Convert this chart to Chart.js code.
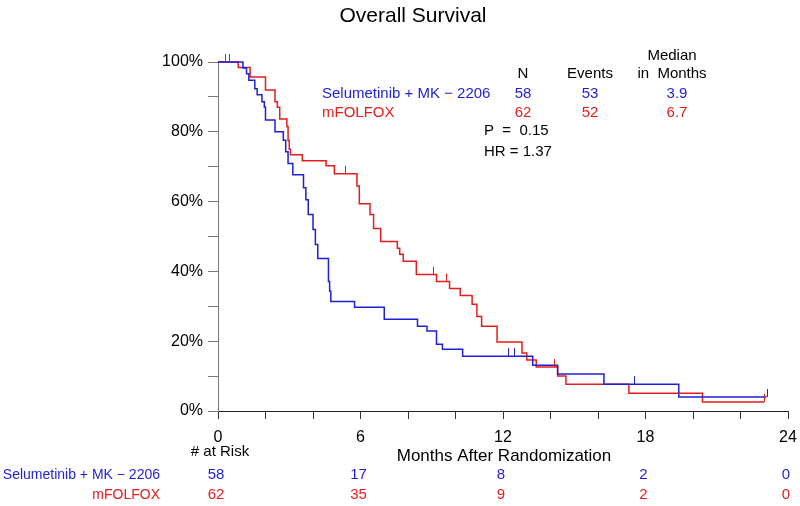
<!DOCTYPE html>
<html>
<head>
<meta charset="utf-8">
<script src="https://cdn.jsdelivr.net/npm/chart.js@4.4.1/dist/chart.umd.min.js"></script>
<style>
  html, body { margin: 0; padding: 0; background: #fff; }
</style>
</head>
<body>
<canvas id="km" width="800" height="506"></canvas>
<script>
// groups
const groupNames = ['Selumetinib + MK \u2212 2206', 'mFOLFOX'];
const groupColors = ['#1f1fd8', '#e61c1c'];

// Kaplan-Meier steps (months, % surviving)
const comboMonths = [0, 1.05, 1.2, 1.3, 1.55, 1.65, 1.85, 1.95, 2.0, 2.4, 2.75, 2.85, 2.95, 3.15, 3.6, 3.7, 3.8, 4.0, 4.1, 4.2, 4.65, 4.7, 4.75, 5.75, 7.0, 8.4, 8.8, 9.2, 9.45, 10.3, 13.25, 14.3, 16.25, 19.4, 23.1];
const comboSurv   = [100, 98.3, 96.6, 94.8, 92.3, 90.6, 88.6, 87.1, 83.4, 80, 77.6, 74.3, 70.9, 67.7, 64, 60.5, 56.3, 52, 47.7, 43.7, 37.1, 34.3, 31.4, 29.7, 26.3, 24.3, 22.9, 19.1, 17.7, 15.7, 13.1, 10.6, 7.7, 4.0, 4.0];
const comboCensor = [12.2, 12.45, 17.5, 23.1];

const folfoxMonths = [0, 0.85, 1.35, 2.0, 2.4, 2.5, 2.6, 2.9, 2.95, 3.0, 3.05, 3.55, 4.55, 4.9, 5.85, 5.95, 6.4, 6.55, 6.85, 7.55, 7.65, 7.8, 8.35, 9.2, 9.75, 10.2, 10.7, 10.9, 11.1, 11.75, 12.8, 13.0, 13.4, 14.3, 14.65, 17.3, 20.4, 23.0];
const folfoxSurv   = [100, 98.4, 95.7, 92, 88.6, 87, 83.7, 81.5, 77.5, 75, 73.4, 71.7, 70.3, 68, 64.5, 59.4, 56.3, 52.3, 48.6, 46.6, 44.9, 42.9, 39.1, 37.1, 35.1, 33.1, 30.6, 27.1, 24.3, 19.8, 16.6, 14.6, 12.6, 10.0, 7.7, 5.1, 2.6, 2.6];
const folfoxCensor = [0.3, 0.45, 5.35, 9.05, 9.6, 14.15, 23.0];

// number at risk
const riskMonths = [0, 6, 12, 18, 24];
const riskCombo = [58, 17, 8, 2, 0];
const riskFolfox = [62, 35, 9, 2, 0];

// summary table
const summaryN = [58, 62];
const summaryEvents = [53, 52];
const summaryMedian = ['3.9', '6.7'];
const pValue = '0.15';
const hazardRatio = '1.37';

const FONT = '"Liberation Sans", Arial, sans-serif';

function toPoints(months, surv) {
  return months.map((m, i) => ({ x: m, y: surv[i] }));
}

function survAt(months, surv, t) {
  let s = surv[0];
  for (let i = 0; i < months.length; i++) {
    if (months[i] <= t) s = surv[i];
  }
  return s;
}

const annotations = {
  id: 'annotations',
  afterDatasetsDraw(chart) {
    const { ctx, scales: { x, y } } = chart;
    ctx.save();
    // censor marks
    const cens = [
      [comboMonths, comboSurv, comboCensor, groupColors[0]],
      [folfoxMonths, folfoxSurv, folfoxCensor, groupColors[1]]
    ];
    ctx.lineWidth = 1;
    cens.forEach(([m, s, c, col]) => {
      ctx.strokeStyle = col;
      c.forEach(t => {
        const px = Math.round(x.getPixelForValue(t)) + 0.5;
        const py = y.getPixelForValue(survAt(m, s, t));
        ctx.beginPath();
        ctx.moveTo(px, py);
        ctx.lineTo(px, py - 8);
        ctx.stroke();
      });
    });
    ctx.restore();
  },
  afterDraw(chart) {
    const { ctx, scales: { x } } = chart;
    ctx.save();
    ctx.textBaseline = 'middle';

    // title
    ctx.fillStyle = '#000';
    ctx.textAlign = 'center';
    ctx.font = '21px ' + FONT;
    ctx.fillText('Overall Survival', 413, 16);

    // summary table
    ctx.font = '15px ' + FONT;
    ctx.fillText('Median', 672, 56);
    ctx.fillText('N', 523, 74);
    ctx.fillText('Events', 590, 74);
    ctx.fillText('in  Months', 672, 74);
    [0, 1].forEach(g => {
      const yy = 94 + g * 19;
      ctx.fillStyle = groupColors[g];
      ctx.textAlign = 'left';
      ctx.fillText(groupNames[g], 322, yy);
      ctx.textAlign = 'center';
      ctx.fillText(String(summaryN[g]), 523, yy);
      ctx.fillText(String(summaryEvents[g]), 590, yy);
      ctx.fillText(summaryMedian[g], 677, yy);
    });
    ctx.fillStyle = '#000';
    ctx.textAlign = 'left';
    ctx.fillText('P  =  ' + pValue, 484, 131);
    ctx.fillText('HR = ' + hazardRatio, 484, 152);

    // x axis title
    ctx.textAlign = 'center';
    ctx.font = '17px ' + FONT;
    ctx.fillText('Months After Randomization', 504, 456);

    // at risk table
    ctx.font = '15px ' + FONT;
    ctx.fillText('# at Risk', 220, 452);
    const rows = [riskCombo, riskFolfox];
    rows.forEach((row, g) => {
      const yy = 475 + g * 20;
      ctx.fillStyle = groupColors[g];
      ctx.textAlign = 'right';
      ctx.font = '14px ' + FONT;
      ctx.fillText(groupNames[g], 160, yy);
      ctx.textAlign = 'center';
      ctx.font = '15px ' + FONT;
      row.forEach((n, i) => {
        ctx.fillText(String(n), x.getPixelForValue(riskMonths[i]) - 2, yy);
      });
    });
    ctx.restore();
  }
};

new Chart(document.getElementById('km'), {
  type: 'line',
  data: {
    datasets: [
      {
        label: groupNames[0],
        data: toPoints(comboMonths, comboSurv),
        borderColor: groupColors[0],
        borderWidth: 1.5,
        pointRadius: 0,
        stepped: 'before',
        fill: false,
        clip: 6
      },
      {
        label: groupNames[1],
        data: toPoints(folfoxMonths, folfoxSurv),
        borderColor: groupColors[1],
        borderWidth: 1.5,
        pointRadius: 0,
        stepped: 'before',
        fill: false,
        clip: 6
      }
    ]
  },
  options: {
    responsive: false,
    animation: false,
    layout: { padding: { left: 0, right: 12, top: 62, bottom: 0 } },
    plugins: {
      legend: { display: false },
      tooltip: { enabled: false }
    },
    scales: {
      x: {
        type: 'linear',
        min: 0,
        max: 24,
        afterFit: s => { s.height = 95; s.paddingLeft = 0; s.paddingRight = 0; },
        ticks: {
          stepSize: 2,
          autoSkip: false,
          maxRotation: 0,
          padding: 9,
          color: '#000',
          font: { family: FONT, size: 16 },
          callback: v => (v % 6 === 0 ? String(v) : '')
        },
        grid: { drawOnChartArea: false, tickLength: 8, color: '#333' },
        border: { color: '#222', width: 1 }
      },
      y: {
        min: 0,
        max: 100,
        afterFit: s => { s.width = 218; },
        ticks: {
          stepSize: 10,
          autoSkip: false,
          padding: 5,
          color: '#000',
          font: { family: FONT, size: 16 },
          callback: v => (v % 20 === 0 ? v + '%' : '')
        },
        grid: { drawOnChartArea: false, tickLength: 10, color: '#777' },
        border: { color: '#777', width: 1 }
      }
    }
  },
  plugins: [annotations]
});
</script>
</body>
</html>
